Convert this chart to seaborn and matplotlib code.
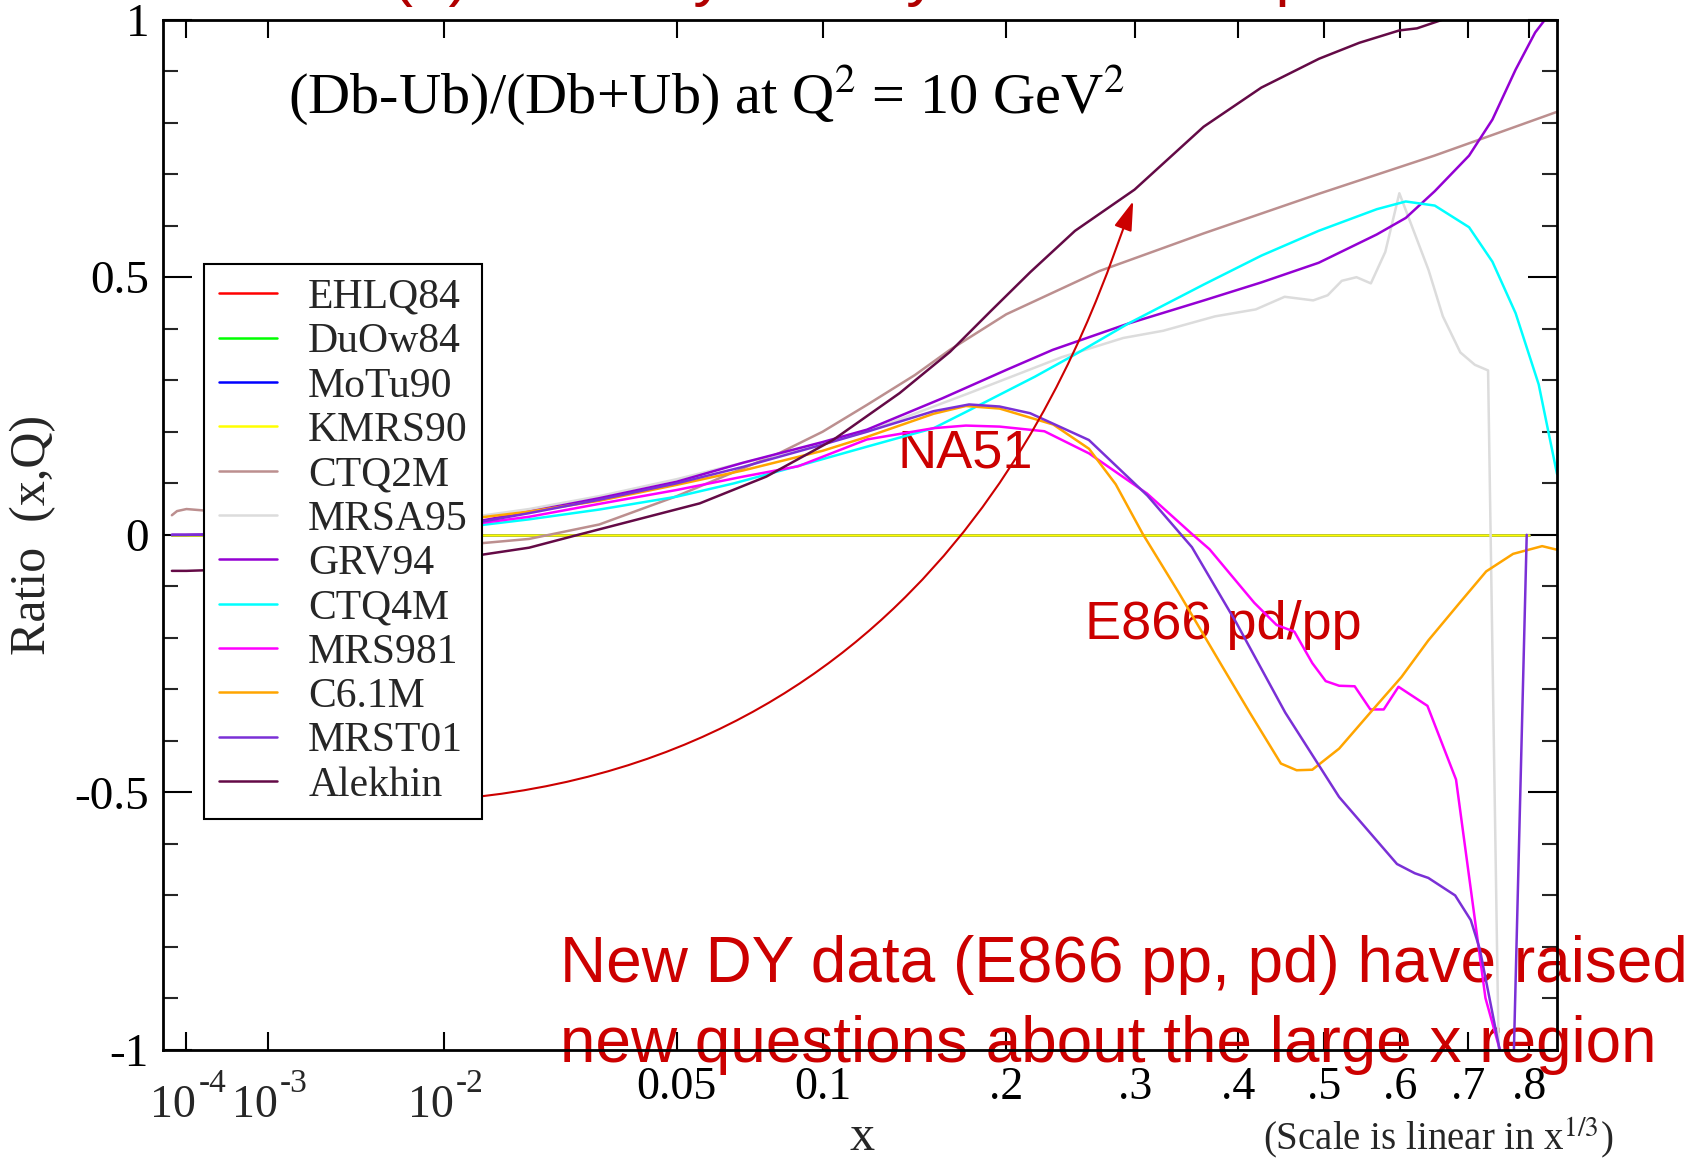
import numpy as np
import pandas as pd
import matplotlib
matplotlib.use("Agg")
import matplotlib.pyplot as plt
import matplotlib.transforms as mtransforms
import seaborn as sns
from matplotlib.lines import Line2D
from matplotlib.patches import FancyArrowPatch
from matplotlib.path import Path
from matplotlib.ticker import FixedLocator, FixedFormatter, MultipleLocator, NullLocator

# ---------------- data ----------------
models = ["EHLQ84", "DuOw84", "MoTu90", "KMRS90", "CTQ2M", "MRSA95",
          "GRV94", "CTQ4M", "MRS981", "C6.1M", "MRST01", "Alekhin"]
colors = ["#ff0000", "#00ff00", "#0000ff", "#ffff00", "#bc8f8f", "#dcdcdc",
          "#9400d3", "#00ffff", "#ff00ff", "#ffa500", "#7a30d6", "#640a46"]

# symmetric sea: ratio identically zero
x_sym = [5e-5, 0.8]
y_sym = [0.0, 0.0]

x_ctq2m = [5e-5, 6.5e-5, 1e-4, 3e-4, 1e-3, 0.005, 0.0134, 0.02, 0.032, 0.05, 0.0829,
           0.1, 0.12, 0.1445, 0.1644, 0.2, 0.2696, 0.3646, 0.4934, 0.6495, 0.7388, 0.848]
y_ctq2m = [0.038, 0.046, 0.05, 0.045, 0.03, 0.0, -0.017, -0.008, 0.02, 0.075, 0.159,
           0.2, 0.252, 0.31, 0.359, 0.428, 0.512, 0.585, 0.662, 0.736, 0.776, 0.821]

x_mrsa95 = [1e-4, 1e-3, 0.005, 0.0134, 0.02, 0.032, 0.05, 0.07, 0.09, 0.12, 0.176, 0.24,
            0.2896, 0.3254, 0.3763, 0.4196, 0.4523, 0.4863, 0.5042, 0.522, 0.541, 0.56,
            0.5795, 0.599, 0.6408, 0.662, 0.6885, 0.711, 0.732, 0.749, 0.755]
y_mrsa95 = [0.0, 0.005, 0.015, 0.036, 0.05, 0.075, 0.108, 0.14, 0.165, 0.2, 0.275, 0.345,
            0.382, 0.396, 0.424, 0.4375, 0.462, 0.455, 0.465, 0.493, 0.5, 0.488,
            0.549, 0.663, 0.514, 0.424, 0.354, 0.33, 0.319, -1.0, -1.2]

x_grv94 = [5e-5, 1e-4, 1e-3, 0.005, 0.0134, 0.02, 0.032, 0.05, 0.07, 0.1, 0.12, 0.16, 0.2,
           0.233, 0.294, 0.365, 0.426, 0.493, 0.568, 0.608, 0.65, 0.702, 0.739, 0.777,
           0.81, 0.827, 0.85]
y_grv94 = [0.0, 0.0, 0.002, 0.01, 0.026, 0.045, 0.071, 0.103, 0.14, 0.18, 0.204, 0.265, 0.32,
           0.359, 0.41, 0.455, 0.49, 0.528, 0.583, 0.615, 0.667, 0.736, 0.806, 0.903,
           0.975, 1.0, 1.08]

x_ctq4m = [1e-3, 0.005, 0.0134, 0.02, 0.032, 0.05, 0.067, 0.094, 0.12, 0.155, 0.175, 0.22,
           0.25, 0.294, 0.365, 0.426, 0.493, 0.568, 0.608, 0.65, 0.702, 0.739, 0.777,
           0.816, 0.848]
y_ctq4m = [0.0, 0.006, 0.018, 0.03, 0.049, 0.074, 0.10, 0.139, 0.171, 0.207, 0.24, 0.307,
           0.35, 0.41, 0.486, 0.542, 0.59, 0.632, 0.647, 0.639, 0.597, 0.53, 0.43,
           0.292, 0.118]

x_mrs981 = [1e-3, 0.005, 0.0134, 0.02, 0.032, 0.05, 0.07, 0.09, 0.12, 0.155, 0.174, 0.1956,
            0.2268, 0.2611, 0.3107, 0.3528, 0.3706, 0.3938, 0.418, 0.443, 0.4637, 0.4852,
            0.5017, 0.5186, 0.5386, 0.5593, 0.5774, 0.5978, 0.6392, 0.6819, 0.7278,
            0.7508, 0.76]
y_mrs981 = [0.0, 0.008, 0.022, 0.035, 0.06, 0.087, 0.113, 0.133, 0.185, 0.207, 0.212, 0.21,
            0.201, 0.158, 0.08, 0.002, -0.028, -0.08, -0.132, -0.175, -0.188, -0.249,
            -0.284, -0.293, -0.294, -0.339, -0.339, -0.295, -0.332, -0.475, -0.899,
            -0.999, -1.1]

x_c61m = [1e-3, 0.005, 0.0134, 0.02, 0.032, 0.05, 0.07, 0.1, 0.12, 0.155, 0.174, 0.1956,
          0.2334, 0.2611, 0.2832, 0.3067, 0.3398, 0.3845, 0.413, 0.448, 0.4664, 0.4852,
          0.5186, 0.5593, 0.602, 0.6405, 0.6875, 0.729, 0.7728, 0.822, 0.848]
y_c61m = [0.0, 0.012, 0.033, 0.045, 0.066, 0.097, 0.125, 0.163, 0.19, 0.235, 0.25, 0.245,
          0.214, 0.167, 0.098, 0.002, -0.111, -0.258, -0.345, -0.444, -0.457, -0.456,
          -0.415, -0.345, -0.276, -0.205, -0.132, -0.071, -0.037, -0.022, -0.029]

x_mrst01 = [5e-5, 1e-4, 1e-3, 0.005, 0.0134, 0.02, 0.032, 0.05, 0.07, 0.1, 0.12, 0.155,
            0.176, 0.1955, 0.2165, 0.261, 0.311, 0.353, 0.3986, 0.453, 0.5186, 0.5957,
            0.621, 0.6405, 0.6806, 0.7047, 0.7188, 0.7508, 0.772, 0.7956]
y_mrst01 = [0.0, 0.0, 0.002, 0.009, 0.024, 0.042, 0.068, 0.1, 0.132, 0.175, 0.2, 0.24,
            0.253, 0.249, 0.236, 0.184, 0.076, -0.024, -0.171, -0.345, -0.509, -0.639,
            -0.657, -0.666, -0.70, -0.748, -0.804, -1.0, -1.1, 0.0]

x_alekhin = [5e-5, 1e-4, 1e-3, 0.005, 0.0134, 0.02, 0.028, 0.0564, 0.078, 0.1045, 0.1364,
             0.1644, 0.19, 0.2167, 0.25, 0.2995, 0.3646, 0.4258, 0.4934, 0.5447, 0.599,
             0.624, 0.662, 0.72]
y_alekhin = [-0.07, -0.07, -0.065, -0.055, -0.04, -0.025, 0.0, 0.061, 0.113, 0.184, 0.275,
             0.355, 0.435, 0.51, 0.59, 0.67, 0.792, 0.868, 0.924, 0.955, 0.979,
             0.983, 1.0, 1.05]

xtick_pos = [1e-4, 1e-3, 1e-2, 0.05, 0.1, 0.2, 0.3, 0.4, 0.5, 0.6, 0.7, 0.8]
xtick_labels = ["", "", "", "0.05", "0.1", ".2", ".3", ".4", ".5", ".6", ".7", ".8"]
pow_ticks = [1e-4, 1e-3, 1e-2]
pow_exps = ["-4", "-3", "-2"]
ytick_pos = [-1.0, -0.5, 0.0, 0.5, 1.0]
ytick_labels = ["-1", "-0.5", "0", "0.5", "1"]

series = {
    "EHLQ84": (x_sym, y_sym), "DuOw84": (x_sym, y_sym), "MoTu90": (x_sym, y_sym),
    "KMRS90": (x_sym, y_sym), "CTQ2M": (x_ctq2m, y_ctq2m), "MRSA95": (x_mrsa95, y_mrsa95),
    "GRV94": (x_grv94, y_grv94), "CTQ4M": (x_ctq4m, y_ctq4m), "MRS981": (x_mrs981, y_mrs981),
    "C6.1M": (x_c61m, y_c61m), "MRST01": (x_mrst01, y_mrst01), "Alekhin": (x_alekhin, y_alekhin),
}
df = pd.concat([pd.DataFrame({"x": xs, "ratio": ys, "model": m})
                for m, (xs, ys) in series.items()], ignore_index=True)

# ---------------- style ----------------
sns.set_style("white")
plt.rcParams["font.family"] = ["Liberation Serif", "DejaVu Serif"]
plt.rcParams["mathtext.fontset"] = "stix"

W, H = 1704, 1160
fig = plt.figure(figsize=(W / 100, H / 100), dpi=100)
ax = fig.add_axes([163 / W, 1 - 1050 / H, (1557 - 163) / W, (1050 - 19.6) / H])
ax.set_xscale("function", functions=(np.cbrt, lambda u: u ** 3))

sns.lineplot(data=df, x="x", y="ratio", hue="model", hue_order=models,
             palette=dict(zip(models, colors)), estimator=None, sort=False,
             lw=1.8, legend=False, ax=ax)

ax.set_xlim(0.031 ** 3, 0.9465 ** 3)
ax.set_ylim(-1, 1)
ax.set_xlabel("")
ax.set_ylabel("")

ax.xaxis.set_major_locator(FixedLocator(xtick_pos))
ax.xaxis.set_major_formatter(FixedFormatter(xtick_labels))
ax.xaxis.set_minor_locator(NullLocator())
ax.yaxis.set_major_locator(FixedLocator(ytick_pos))
ax.yaxis.set_major_formatter(FixedFormatter(ytick_labels))
ax.yaxis.set_minor_locator(MultipleLocator(0.1))
ax.tick_params(axis="x", which="major", direction="in", length=13, width=1.5,
               top=True, bottom=True, labelsize=33, pad=12, colors="black")
ax.tick_params(axis="y", which="major", direction="in", length=21, width=1.5,
               left=True, right=True, labelsize=34, pad=10, colors="black")
ax.tick_params(axis="y", which="minor", direction="in", length=11, width=1.5,
               left=True, right=True)
for sp in ax.spines.values():
    sp.set_linewidth(2)
    sp.set_color("black")

# power-of-ten tick labels: "10" with a raised exponent
xtrans = mtransforms.blended_transform_factory(ax.transData, ax.transAxes)
for xp, ex in zip(pow_ticks, pow_exps):
    ax.annotate("10", xy=(xp, 0), xycoords=xtrans, xytext=(7, -48),
                textcoords="offset points", fontsize=33, ha="right", va="baseline",
                annotation_clip=False)
    ax.annotate(ex, xy=(xp, 0), xycoords=xtrans, xytext=(8.5, -30),
                textcoords="offset points", fontsize=24, ha="left", va="baseline",
                annotation_clip=False)

handles = [Line2D([], [], color=c, lw=1.8) for c in colors]
leg = ax.legend(handles, models, loc="upper left", bbox_to_anchor=(0.0294, 0.763),
                borderaxespad=0, frameon=True, fancybox=False, edgecolor="black",
                framealpha=1, fontsize=30, handlelength=1.4, handletextpad=0.75,
                labelspacing=0.14, borderpad=0.35)
leg.get_frame().set_linewidth(1.5)
leg.set_zorder(6)

# curved annotation arrow (axes-fraction coordinates)
verts = [(0.2182, 0.2447), (0.5768, 0.2932), (0.6687, 0.7247), (0.6960, 0.8238)]
codes = [Path.MOVETO, Path.CURVE4, Path.CURVE4, Path.CURVE4]
arrow = FancyArrowPatch(path=Path(verts, codes), transform=ax.transAxes,
                        arrowstyle="-|>,head_length=0.9,head_width=0.28",
                        mutation_scale=20, color="#cc0000", lw=1.5,
                        shrinkA=0, shrinkB=0, zorder=3)
ax.add_patch(arrow)

red = "#cc0000"
sans = ["Liberation Sans", "DejaVu Sans"]
tf = fig.transFigure
ax.text(303 / W, 1 + 6 / H, "SU(2) flavor symmetry of the sea quarks", transform=tf,
        family=sans, color="#b00000", fontsize=46, ha="left", va="baseline", zorder=1)
ax.text(898 / W, 1 - 467 / H, "NA51", transform=tf, family=sans, color=red,
        fontsize=39, ha="left", va="baseline", zorder=1)
ax.text(1085 / W, 1 - 639 / H, "E866 pd/pp", transform=tf, family=sans, color=red,
        fontsize=39, ha="left", va="baseline", zorder=1)
ax.text(560 / W, 1 - 982 / H, "New DY data (E866 pp, pd) have raised", transform=tf,
        family=sans, color=red, fontsize=46, ha="left", va="baseline", zorder=1)
ax.text(560 / W, 1 - 1062 / H, "new questions about the large x region", transform=tf,
        family=sans, color=red, fontsize=46, ha="left", va="baseline", zorder=1)

ax.text(288 / W, 1 - 114 / H, r"(Db-Ub)/(Db+Ub) at Q$^2$ = 10 GeV$^2$", transform=tf,
        fontsize=42, ha="left", va="baseline", color="black", zorder=1)

fig.text(862 / W, 1 - 1138 / H, "x", fontsize=36, ha="center", va="center")
fig.text(1263 / W, 1 - 1138 / H, r"(Scale is linear in x$^{1/3}$)", fontsize=28,
         ha="left", va="center")
fig.text(33 / W, 1 - 535 / H, "Ratio  (x,Q)", fontsize=36, rotation=90,
         ha="center", va="center")

fig.savefig("out.png", dpi=100, facecolor="white")
